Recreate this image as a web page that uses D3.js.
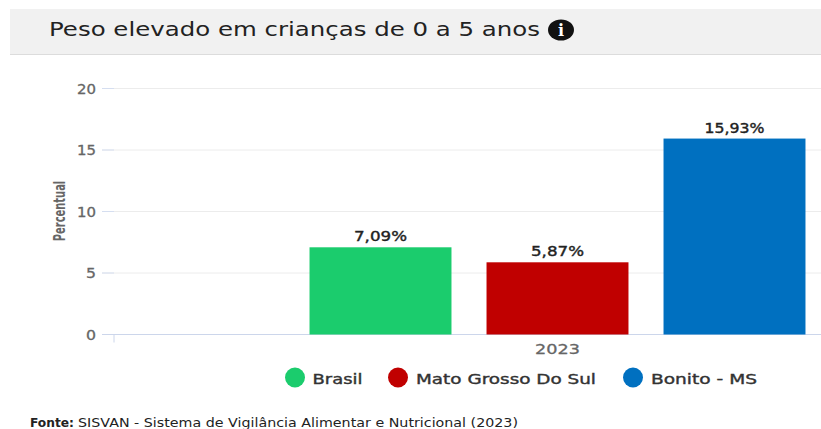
<!DOCTYPE html>
<html><head><meta charset="utf-8">
<script src="https://cdn.jsdelivr.net/npm/d3@7"></script>
<style>html,body{margin:0;padding:0;background:#fff}svg{display:block}</style>
</head><body><div id="chart"></div>
<script>
const years = ["2023"];
const seriesNames = ["Brasil","Mato Grosso Do Sul","Bonito - MS"];
const seriesValues = [7.09,5.87,15.93];
const seriesLabels = ["7,09%","5,87%","15,93%"];
const seriesColors = ["#1bcc6d","#c00000","#0070c0"];
const yTicks = [0,5,10,15,20];
const titleText = "Peso elevado em crianças de 0 a 5 anos";
const yTitle = "Percentual";
const sourceLabel = "Fonte:";
const sourceText = "SISVAN - Sistema de Vigilância Alimentar e Nutricional (2023)";

const W=821,H=429;
const svg=d3.select("#chart").append("svg").attr("width",W).attr("height",H);
const font="'DejaVu Sans', sans-serif";

svg.append("rect").attr("x",10).attr("y",9).attr("width",W-10).attr("height",45.5).attr("fill","#f1f1f1");
svg.append("line").attr("x1",10).attr("x2",W).attr("y1",54.5).attr("y2",54.5).attr("stroke","#dcdcdc");
svg.append("text").attr("x",49).attr("y",36).attr("font-family",font).attr("font-size",20)
 .attr("textLength",491).attr("lengthAdjust","spacingAndGlyphs").attr("fill","#222").text(titleText);
const ig=svg.append("g").attr("transform","translate(561,30)");
ig.append("ellipse").attr("rx",13).attr("ry",10.5).attr("fill","#111");
ig.append("text").attr("text-anchor","middle").attr("y",6).attr("font-family","'DejaVu Serif',serif")
 .attr("font-weight",700).attr("font-size",16).attr("fill","#fff").text("i");

const y=d3.scaleLinear().domain([0,20]).range([334.5,88.5]);
const xYear=d3.scaleBand().domain(years).range([292,823]);
const xBar=d3.scaleBand().domain(seriesNames).range(xYear.range()).paddingInner(0.198).paddingOuter(0.099);

const grid=svg.append("g");
grid.selectAll("line.g").data(yTicks.filter(d=>d>0)).join("line").attr("class","g")
 .attr("x1",102).attr("x2",W).attr("y1",d=>y(d)).attr("y2",d=>y(d)).attr("stroke","#ececec");
grid.selectAll("line.t").data(yTicks).join("line").attr("class","t")
 .attr("x1",102).attr("x2",114).attr("y1",d=>y(d)).attr("y2",d=>y(d)).attr("stroke","#d5def0");
svg.append("line").attr("x1",102).attr("x2",W).attr("y1",y(0)).attr("y2",y(0)).attr("stroke","#ccd6eb");
svg.append("line").attr("x1",114).attr("x2",114).attr("y1",y(0)).attr("y2",y(0)+8).attr("stroke","#ccd6eb");

svg.append("g").selectAll("text").data(yTicks).join("text")
 .attr("x",96).attr("y",d=>y(d)+5).attr("text-anchor","end").attr("font-family",font)
 .attr("font-size",13.5).attr("fill","#666").attr("stroke","#666").attr("stroke-width",0.3)
 .attr("textLength",d=>String(d).length>1?19:10).attr("lengthAdjust","spacingAndGlyphs").text(d=>d);

svg.append("text").attr("transform","translate(65,211) rotate(-90) scale(0.71,1.15)").attr("text-anchor","middle")
 .attr("font-family",font).attr("font-size",14).attr("font-weight",700).attr("fill","#666").text(yTitle);

svg.append("g").selectAll("rect").data(seriesNames).join("rect")
 .attr("x",d=>xBar(d)).attr("width",xBar.bandwidth())
 .attr("y",(d,i)=>y(seriesValues[i])).attr("height",(d,i)=>y(0)-y(seriesValues[i]))
 .attr("fill",(d,i)=>seriesColors[i]);
svg.append("g").selectAll("text").data(seriesNames).join("text")
 .attr("x",d=>xBar(d)+xBar.bandwidth()/2).attr("y",(d,i)=>y(seriesValues[i])-6).attr("text-anchor","middle")
 .attr("font-family",font).attr("font-size",14).attr("fill","#222").attr("stroke","#222").attr("stroke-width",0.4)
 .attr("textLength",(d,i)=>seriesLabels[i].length>5?60:53).attr("lengthAdjust","spacingAndGlyphs")
 .text((d,i)=>seriesLabels[i]);

svg.append("text").attr("x",xYear(years[0])+xYear.bandwidth()/2).attr("y",354).attr("text-anchor","middle")
 .attr("font-family",font).attr("font-size",14).attr("fill","#666").attr("stroke","#666").attr("stroke-width",0.3)
 .attr("textLength",45).attr("lengthAdjust","spacingAndGlyphs").text(years[0]);

const legendX=[295,398,633], textX=[312.5,416,651], textW=[50,180,106];
const lg=svg.append("g");
lg.selectAll("circle").data(seriesNames).join("circle")
 .attr("cx",(d,i)=>legendX[i]).attr("cy",377.5).attr("r",10).attr("fill",(d,i)=>seriesColors[i]);
lg.selectAll("text").data(seriesNames).join("text")
 .attr("x",(d,i)=>textX[i]).attr("y",383.5).attr("font-family",font).attr("font-size",14.5)
 .attr("textLength",(d,i)=>textW[i]).attr("lengthAdjust","spacingAndGlyphs")
 .attr("fill","#333").attr("stroke","#333").attr("stroke-width",0.4).text(d=>d);

svg.append("text").attr("x",30).attr("y",427).attr("font-family",font).attr("font-size",11.5).attr("font-weight",700)
 .attr("textLength",44).attr("lengthAdjust","spacingAndGlyphs").attr("fill","#222").text(sourceLabel);
svg.append("text").attr("x",78).attr("y",427).attr("font-family",font).attr("font-size",11.5)
 .attr("textLength",440).attr("lengthAdjust","spacingAndGlyphs").attr("fill","#222").text(sourceText);
</script></body></html>
